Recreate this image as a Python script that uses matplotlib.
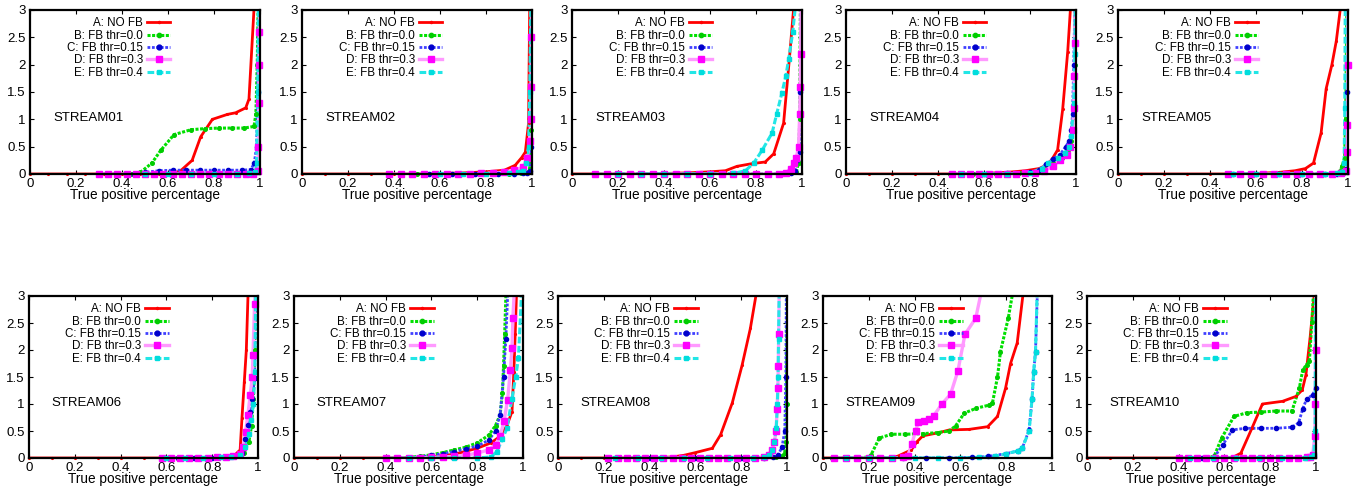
import matplotlib
matplotlib.use("Agg")
import matplotlib.pyplot as plt
import numpy as np

plt.rcParams['font.family'] = ['Liberation Sans', 'DejaVu Sans']

stream_names = ["STREAM01", "STREAM02", "STREAM03", "STREAM04", "STREAM05",
                "STREAM06", "STREAM07", "STREAM08", "STREAM09", "STREAM10"]
series_labels = ["A: NO FB", "B: FB thr=0.0", "C: FB thr=0.15", "D: FB thr=0.3", "E: FB thr=0.4"]
x_ticks = [0, 0.2, 0.4, 0.6, 0.8, 1.0]
x_ticklabels = ["0", "0.2", "0.4", "0.6", "0.8", "1"]
y_ticks = [0, 0.5, 1, 1.5, 2, 2.5, 3]
y_ticklabels = ["0", "0.5", "1", "1.5", "2", "2.5", "3"]

# ---------------- STREAM01 ----------------
s01_Ax = [0, 0.08, 0.16, 0.24, 0.32, 0.40, 0.48, 0.56, 0.62, 0.655, 0.705, 0.742, 0.793, 0.858, 0.894, 0.938, 0.952, 0.975]
s01_Ay = [0, 0, 0, 0, 0, 0, 0, 0, 0.01, 0.06, 0.25, 0.68, 1.0, 1.09, 1.12, 1.21, 1.37, 3.1]
s01_Bx = [0.30, 0.38, 0.44, 0.48, 0.53, 0.568, 0.626, 0.70, 0.76, 0.82, 0.88, 0.93, 0.974, 0.982, 0.988, 0.992]
s01_By = [0, 0, 0, 0.03, 0.2, 0.43, 0.72, 0.81, 0.83, 0.84, 0.84, 0.84, 0.87, 1.1, 2.0, 3.1]
s01_Cx = [0.45, 0.50, 0.56, 0.62, 0.68, 0.74, 0.80, 0.86, 0.92, 0.96, 0.975, 0.985, 0.99, 0.995]
s01_Cy = [0, 0.03, 0.06, 0.07, 0.07, 0.07, 0.07, 0.07, 0.07, 0.08, 0.2, 0.5, 1.5, 3.1]
s01_Dx = [0.30, 0.34, 0.38, 0.42, 0.46, 0.50, 0.54, 0.58, 0.62, 0.66, 0.70, 0.74, 0.78, 0.82, 0.86, 0.90, 0.94, 0.97, 0.99, 0.993, 0.995, 0.996, 0.997, 0.998]
s01_Dy = [0, 0, 0, 0, 0, 0, 0, 0, 0, 0, 0, 0, 0, 0, 0, 0, 0, 0, 0.05, 0.5, 1.3, 2.0, 2.6, 3.1]
s01_Ex = [0.50, 0.60, 0.70, 0.80, 0.90, 0.95, 0.98, 0.985, 0.99, 0.993]
s01_Ey = [0, 0, 0, 0, 0, 0.01, 0.03, 0.2, 1.5, 3.1]

# ---------------- STREAM02 ----------------
s02_Ax = [0, 0.1, 0.2, 0.3, 0.4, 0.5, 0.6, 0.7, 0.8, 0.88, 0.927, 0.955, 0.971, 0.985, 0.99]
s02_Ay = [0, 0, 0, 0, 0, 0, 0.01, 0.02, 0.04, 0.07, 0.16, 0.3, 0.4, 0.93, 3.1]
s02_Bx = [0.5, 0.6, 0.7, 0.8, 0.9, 0.95, 0.98, 0.99, 0.995, 0.997]
s02_By = [0, 0, 0, 0, 0, 0.01, 0.02, 0.1, 0.8, 3.1]
s02_Cx = [0.55, 0.65, 0.75, 0.85, 0.92, 0.96, 0.98, 0.99, 0.995, 0.997]
s02_Cy = [0, 0, 0, 0, 0, 0.01, 0.02, 0.05, 0.5, 3.1]
s02_Dx = [0.38, 0.43, 0.48, 0.53, 0.58, 0.63, 0.68, 0.73, 0.78, 0.83, 0.88, 0.92, 0.96, 0.98, 0.99, 0.994, 0.996, 0.997, 0.998]
s02_Dy = [0, 0, 0, 0, 0, 0, 0, 0, 0.01, 0.02, 0.03, 0.07, 0.12, 0.3, 0.6, 1.0, 1.6, 2.5, 3.1]
s02_Ex = [0.6, 0.7, 0.8, 0.9, 0.94, 0.96, 0.975, 0.985, 0.99, 0.995]
s02_Ey = [0, 0, 0, 0.01, 0.03, 0.05, 0.2, 0.5, 1.5, 3.1]

# ---------------- STREAM03 ----------------
s03_Ax = [0, 0.1, 0.2, 0.3, 0.4, 0.5, 0.6, 0.667, 0.717, 0.783, 0.84, 0.877, 0.92, 0.945, 0.965]
s03_Ay = [0, 0, 0, 0, 0.01, 0.02, 0.04, 0.06, 0.14, 0.19, 0.22, 0.37, 0.93, 2.1, 3.1]
s03_Bx = [0.1, 0.2, 0.3, 0.4, 0.5, 0.6, 0.7, 0.8, 0.9, 0.95, 0.975, 0.985, 0.99, 0.993]
s03_By = [0, 0, 0, 0, 0, 0, 0, 0, 0, 0.01, 0.03, 0.2, 1.0, 3.1]
s03_Cx = [0.2, 0.3, 0.4, 0.5, 0.6, 0.7, 0.8, 0.9, 0.95, 0.97, 0.98, 0.99, 0.993, 0.995]
s03_Cy = [0, 0, 0, 0, 0, 0, 0, 0, 0.01, 0.05, 0.25, 0.4, 1.5, 3.1]
s03_Dx = [0.1, 0.15, 0.2, 0.25, 0.3, 0.35, 0.4, 0.45, 0.5, 0.55, 0.6, 0.65, 0.7, 0.75, 0.8, 0.85, 0.9, 0.93, 0.95, 0.965, 0.975, 0.985, 0.99, 0.992, 0.994, 0.996]
s03_Dy = [0, 0, 0, 0, 0, 0, 0, 0, 0, 0, 0, 0, 0, 0, 0, 0, 0, 0.02, 0.1, 0.2, 0.3, 0.5, 1.1, 1.6, 2.2, 3.1]
s03_Ex = [0.2, 0.3, 0.4, 0.5, 0.6, 0.7, 0.754, 0.79, 0.826, 0.87, 0.89, 0.913, 0.93, 0.942, 0.96, 0.972]
s03_Ey = [0, 0, 0, 0, 0, 0.01, 0.06, 0.2, 0.43, 0.75, 1.1, 1.49, 1.8, 2.1, 2.6, 3.1]

# ---------------- STREAM04 ----------------
s04_Ax = [0, 0.1, 0.2, 0.3, 0.4, 0.5, 0.6, 0.7, 0.78, 0.84, 0.88, 0.9, 0.92, 0.942, 0.964, 0.977]
s04_Ay = [0, 0, 0, 0, 0, 0, 0.01, 0.03, 0.06, 0.1, 0.18, 0.3, 0.44, 1.18, 2.24, 3.1]
s04_Bx = [0.45, 0.55, 0.65, 0.75, 0.82, 0.86, 0.9, 0.94, 0.965, 0.98, 0.99, 0.995, 0.997]
s04_By = [0, 0, 0, 0.01, 0.03, 0.1, 0.2, 0.3, 0.4, 0.6, 1.2, 2.0, 3.1]
s04_Cx = [0.5, 0.6, 0.7, 0.8, 0.84, 0.87, 0.9, 0.93, 0.955, 0.97, 0.98, 0.985, 0.99, 0.995]
s04_Cy = [0, 0, 0.01, 0.03, 0.08, 0.18, 0.28, 0.35, 0.5, 0.6, 0.8, 1.1, 2.0, 3.1]
s04_Dx = [0.46, 0.5, 0.54, 0.58, 0.62, 0.66, 0.7, 0.74, 0.78, 0.82, 0.86, 0.9, 0.93, 0.96, 0.975, 0.985, 0.99, 0.993, 0.995, 0.997]
s04_Dy = [0, 0, 0, 0, 0, 0, 0, 0, 0.01, 0.02, 0.05, 0.15, 0.25, 0.35, 0.5, 0.8, 1.2, 1.8, 2.4, 3.1]
s04_Ex = [0.5, 0.6, 0.7, 0.8, 0.85, 0.88, 0.92, 0.95, 0.97, 0.98, 0.99, 0.995, 0.997]
s04_Ey = [0, 0, 0, 0.02, 0.1, 0.2, 0.3, 0.38, 0.5, 0.7, 1.3, 2.2, 3.1]

# ---------------- STREAM05 ----------------
s05_Ax = [0, 0.1, 0.2, 0.3, 0.4, 0.5, 0.6, 0.7, 0.77, 0.815, 0.85, 0.883, 0.905, 0.93, 0.949, 0.969]
s05_Ay = [0, 0, 0, 0, 0, 0, 0.01, 0.03, 0.06, 0.1, 0.2, 0.75, 1.56, 2.0, 2.43, 3.1]
s05_Bx = [0.5, 0.6, 0.7, 0.8, 0.9, 0.95, 0.965, 0.975, 0.985, 0.99, 0.995]
s05_By = [0, 0, 0, 0, 0, 0.01, 0.05, 0.15, 0.3, 1.0, 3.1]
s05_Cx = [0.5, 0.6, 0.7, 0.8, 0.9, 0.95, 0.98, 0.993, 0.997, 0.999]
s05_Cy = [0, 0, 0, 0, 0, 0, 0.01, 0.1, 1.5, 3.1]
s05_Dx = [0.48, 0.53, 0.58, 0.63, 0.68, 0.73, 0.78, 0.83, 0.88, 0.93, 0.97, 0.99, 0.995, 0.997, 0.998, 0.999]
s05_Dy = [0, 0, 0, 0, 0, 0, 0, 0, 0, 0, 0.01, 0.05, 0.4, 0.9, 2.0, 3.1]
s05_Ex = [0.5, 0.6, 0.7, 0.8, 0.9, 0.95, 0.975, 0.983, 0.986, 0.988]
s05_Ey = [0, 0, 0, 0, 0, 0.01, 0.03, 0.2, 1.2, 3.1]

# ---------------- STREAM06 ----------------
s06_Ax = [0, 0.1, 0.2, 0.3, 0.4, 0.5, 0.6, 0.7, 0.8, 0.87, 0.9, 0.922, 0.93, 0.94, 0.949, 0.957]
s06_Ay = [0, 0, 0, 0, 0, 0, 0, 0, 0.01, 0.03, 0.06, 0.15, 0.74, 1.4, 2.0, 3.1]
s06_Bx = [0.58, 0.65, 0.72, 0.8, 0.86, 0.9, 0.94, 0.96, 0.972, 0.98, 0.986, 0.99]
s06_By = [0, 0, 0, 0, 0.02, 0.04, 0.1, 0.3, 0.6, 1.1, 2.0, 3.1]
s06_Cx = [0.58, 0.65, 0.72, 0.8, 0.86, 0.9, 0.93, 0.945, 0.956, 0.965, 0.975, 0.985, 0.99]
s06_Cy = [0, 0, 0, 0, 0.02, 0.04, 0.1, 0.35, 0.62, 0.85, 1.1, 1.48, 3.1]
s06_Dx = [0.58, 0.62, 0.66, 0.70, 0.74, 0.78, 0.82, 0.86, 0.89, 0.92, 0.935, 0.946, 0.956, 0.966, 0.975, 0.978, 0.985, 0.988]
s06_Dy = [0, 0, 0, 0, 0, 0, 0.01, 0.02, 0.04, 0.08, 0.2, 0.49, 0.8, 1.17, 1.5, 1.9, 2.85, 3.1]
s06_Ex = [0.6, 0.68, 0.76, 0.84, 0.88, 0.92, 0.945, 0.96, 0.97, 0.98, 0.986, 0.99]
s06_Ey = [0, 0, 0, 0.01, 0.02, 0.05, 0.2, 0.45, 0.7, 1.0, 1.6, 3.1]

# ---------------- STREAM07 ----------------
s07_Ax = [0, 0.1, 0.2, 0.3, 0.4, 0.5, 0.6, 0.7, 0.8, 0.86, 0.9, 0.93, 0.952, 0.96, 0.966, 0.972]
s07_Ay = [0, 0, 0, 0, 0, 0.01, 0.02, 0.07, 0.18, 0.28, 0.4, 0.6, 0.86, 1.6, 2.3, 3.1]
s07_Bx = [0.4, 0.5, 0.55, 0.6, 0.65, 0.7, 0.75, 0.8, 0.85, 0.88, 0.9, 0.91, 0.915, 0.92, 0.926]
s07_By = [0, 0.01, 0.03, 0.06, 0.1, 0.15, 0.2, 0.28, 0.42, 0.6, 0.8, 1.2, 1.7, 2.3, 3.1]
s07_Cx = [0.45, 0.55, 0.6, 0.65, 0.7, 0.75, 0.8, 0.85, 0.88, 0.9, 0.915, 0.925, 0.934]
s07_Cy = [0, 0.02, 0.05, 0.08, 0.12, 0.17, 0.22, 0.33, 0.5, 0.8, 1.5, 2.2, 3.1]
s07_Dx = [0.4, 0.45, 0.5, 0.55, 0.6, 0.65, 0.7, 0.75, 0.8, 0.85, 0.88, 0.9, 0.917, 0.933, 0.945, 0.952, 0.956, 0.962]
s07_Dy = [0, 0, 0, 0, 0.01, 0.02, 0.03, 0.05, 0.09, 0.15, 0.25, 0.4, 0.68, 1.08, 1.63, 2.04, 2.6, 3.1]
s07_Ex = [0.5, 0.6, 0.7, 0.8, 0.86, 0.886, 0.91, 0.93, 0.952, 0.968, 0.98, 0.994]
s07_Ey = [0, 0, 0, 0, 0.02, 0.12, 0.35, 0.55, 1.1, 1.5, 1.85, 3.1]

# ---------------- STREAM08 ----------------
s08_Ax = [0, 0.1, 0.2, 0.3, 0.4, 0.5, 0.55, 0.6, 0.674, 0.71, 0.761, 0.804, 0.84, 0.868]
s08_Ay = [0, 0, 0, 0, 0, 0.02, 0.05, 0.1, 0.18, 0.43, 1.02, 1.72, 2.4, 3.1]
s08_Bx = [0.3, 0.4, 0.5, 0.6, 0.7, 0.8, 0.9, 0.95, 0.98, 0.99, 0.995, 0.998, 0.999]
s08_By = [0, 0, 0, 0, 0, 0, 0, 0.01, 0.03, 0.1, 0.3, 1.0, 3.1]
s08_Cx = [0.3, 0.4, 0.5, 0.6, 0.7, 0.8, 0.9, 0.94, 0.96, 0.978, 0.99, 0.995, 0.997]
s08_Cy = [0, 0, 0, 0, 0, 0, 0, 0.02, 0.05, 0.2, 0.5, 1.5, 3.1]
s08_Dx = [0.22, 0.26, 0.30, 0.34, 0.38, 0.42, 0.46, 0.50, 0.54, 0.58, 0.62, 0.66, 0.70, 0.74, 0.78, 0.82, 0.86, 0.9, 0.92, 0.935, 0.945, 0.952, 0.957, 0.96, 0.962, 0.964, 0.966]
s08_Dy = [0, 0, 0, 0, 0, 0, 0, 0, 0, 0, 0, 0, 0, 0, 0, 0, 0, 0.02, 0.06, 0.15, 0.3, 0.5, 0.9, 1.3, 1.7, 2.3, 3.1]
s08_Ex = [0.25, 0.35, 0.45, 0.55, 0.65, 0.75, 0.85, 0.9, 0.92, 0.935, 0.945, 0.953, 0.958, 0.961, 0.963, 0.966]
s08_Ey = [0, 0, 0, 0, 0, 0, 0, 0.02, 0.06, 0.15, 0.3, 0.55, 1.0, 1.5, 2.2, 3.1]

# ---------------- STREAM09 ----------------
s09_Ax = [0, 0.1, 0.2, 0.3, 0.33, 0.36, 0.386, 0.41, 0.436, 0.507, 0.552, 0.638, 0.719, 0.762, 0.797, 0.819, 0.848, 0.874]
s09_Ay = [0, 0, 0, 0, 0.04, 0.1, 0.15, 0.3, 0.41, 0.47, 0.52, 0.53, 0.58, 0.77, 1.29, 1.75, 2.13, 3.05]
s09_Bx = [0.04, 0.1, 0.15, 0.2, 0.21, 0.246, 0.299, 0.36, 0.435, 0.5, 0.552, 0.58, 0.617, 0.668, 0.726, 0.74, 0.762, 0.775, 0.809, 0.828]
s09_By = [0, 0, 0, 0.02, 0.06, 0.37, 0.44, 0.44, 0.45, 0.47, 0.5, 0.6, 0.83, 0.92, 0.98, 1.02, 1.5, 1.97, 2.59, 3.05]
s09_Cx = [0.05, 0.15, 0.25, 0.35, 0.45, 0.55, 0.65, 0.72, 0.8, 0.85, 0.87, 0.9, 0.913, 0.92, 0.928, 0.936]
s09_Cy = [0, 0, 0, 0, 0, 0, 0.01, 0.03, 0.08, 0.13, 0.18, 0.52, 1.1, 1.6, 1.97, 3.05]
s09_Dx = [0.05, 0.1, 0.15, 0.2, 0.25, 0.3, 0.35, 0.37, 0.388, 0.404, 0.416, 0.443, 0.465, 0.483, 0.519, 0.557, 0.589, 0.62, 0.667, 0.69]
s09_Dy = [0, 0, 0, 0, 0, 0, 0.01, 0.04, 0.26, 0.5, 0.66, 0.69, 0.73, 0.78, 1.0, 1.18, 1.61, 2.29, 2.59, 3.05]
s09_Ex = [0.1, 0.2, 0.3, 0.4, 0.5, 0.6, 0.68, 0.75, 0.8, 0.85, 0.87, 0.9, 0.913, 0.92, 0.928, 0.935]
s09_Ey = [0, 0, 0, 0, 0, 0, 0.01, 0.03, 0.08, 0.13, 0.18, 0.5, 1.1, 1.6, 1.97, 3.05]

# ---------------- STREAM10 ----------------
s10_Ax = [0, 0.1, 0.2, 0.3, 0.4, 0.5, 0.6, 0.64, 0.672, 0.72, 0.766, 0.854, 0.912, 0.94, 0.956, 0.974, 0.993]
s10_Ay = [0, 0, 0, 0, 0, 0, 0, 0.02, 0.09, 0.55, 1.0, 1.05, 1.14, 1.26, 1.54, 2.22, 3.05]
s10_Bx = [0.4, 0.5, 0.555, 0.588, 0.642, 0.7, 0.76, 0.825, 0.895, 0.927, 0.942, 0.959, 0.971, 0.982, 0.989]
s10_By = [0, 0, 0.03, 0.37, 0.77, 0.84, 0.85, 0.87, 0.87, 1.29, 1.63, 1.73, 1.79, 2.52, 3.05]
s10_Cx = [0.4, 0.5, 0.555, 0.594, 0.635, 0.69, 0.76, 0.825, 0.895, 0.924, 0.942, 0.959, 0.985, 0.998, 0.999]
s10_Cy = [0, 0, 0.01, 0.25, 0.52, 0.55, 0.55, 0.55, 0.57, 0.65, 0.91, 1.09, 1.17, 1.29, 3.1]
s10_Dx = [0.4, 0.44, 0.48, 0.52, 0.56, 0.6, 0.64, 0.68, 0.72, 0.76, 0.8, 0.84, 0.88, 0.92, 0.96, 0.975, 0.985, 0.995, 0.997, 0.998, 0.999]
s10_Dy = [0, 0, 0, 0, 0, 0, 0, 0, 0, 0, 0, 0, 0, 0, 0.01, 0.02, 0.05, 0.4, 1.0, 2.0, 3.1]
s10_Ex = [0.45, 0.55, 0.65, 0.75, 0.85, 0.95, 0.98, 0.99, 0.996, 0.998]
s10_Ey = [0, 0, 0, 0, 0, 0, 0.01, 0.05, 0.5, 3.1]

# ---------------- styles ----------------
styles = {
    "A": dict(color="#ff0000", lw=2.0, ls="-", marker=".", ms=2.5, mfc="#ff0000", mec="#ff0000"),
    "B": dict(color="#00e000", lw=2.2, ls=(0, (1, 0.5)), marker="o", ms=2.6, mfc="#00cc00", mec="#00cc00"),
    "C": dict(color="#4040ff", lw=2.0, ls=(0, (1, 0.6)), marker="o", ms=3.0, mfc="#0000cc", mec="#0000cc"),
    "D": dict(color="#ff99ff", lw=2.4, ls="-", marker="s", ms=4.5, mfc="#ff00ff", mec="#ff00ff"),
    "E": dict(color="#22e6e6", lw=2.2, ls=(0, (2.2, 0.8)), marker="s", ms=2.4, mfc="#00dddd", mec="#00dddd"),
}

W, H = 1367, 488
fig = plt.figure(figsize=(W / 100, H / 100), dpi=100)

row1_left = [30, 302, 572, 846, 1118]
row2_left = [29, 294, 558, 823, 1087]

def px_axes(left, top, width, height):
    return fig.add_axes([left / W, 1 - (top + height) / H, width / W, height / H])

keys = ["A", "B", "C", "D", "E"]
for i, name in enumerate(stream_names):
    if i < 5:
        ax = px_axes(row1_left[i], 10, 230, 164)
        ah = 164
    else:
        ax = px_axes(row2_left[i - 5], 296, 229, 162)
        ah = 162
    tag = "s%02d_" % (i + 1)
    handles = []
    for k, lab in zip(keys, series_labels):
        xs = np.array(globals()[tag + k + "x"])
        ys = np.array(globals()[tag + k + "y"])
        st = styles[k]
        ax.plot(xs, ys, color=st["color"], lw=st["lw"], ls=st["ls"], zorder=2, solid_capstyle="butt")
        m = ys <= 3.0
        ax.plot(xs[m], ys[m], ls="none", marker=st["marker"], ms=st["ms"],
                mfc=st["mfc"], mec=st["mec"], clip_on=False, zorder=3)
        h, = ax.plot([], [], color=st["color"], lw=st["lw"], ls=st["ls"], marker=st["marker"],
                     ms=st["ms"] + 0.5, mfc=st["mfc"], mec=st["mec"], markevery=[1])
        handles.append(h)
    ax.set_xlim(0, 1)
    ax.set_ylim(0, 3)
    ax.set_xticks(x_ticks)
    ax.set_xticklabels(x_ticklabels)
    ax.set_yticks(y_ticks)
    ax.set_yticklabels(y_ticklabels)
    ax.tick_params(direction="in", length=3, width=0.8, top=True, right=True,
                   labelsize=9.5, pad=3)
    for sp in ax.spines.values():
        sp.set_linewidth(1.6)
        sp.set_zorder(5)
    ax.set_xlabel("True positive percentage", fontsize=9.8, labelpad=-1.5)
    ax.text(0.10, 0.34, name, transform=ax.transAxes, fontsize=9.5, va="center", ha="left")
    ax.legend(handles, series_labels, loc="upper right",
              bbox_to_anchor=(0.62, 1.0 - 5.0 / ah),
              frameon=False, fontsize=8.4, markerfirst=False, handlelength=2.0,
              handletextpad=0.35, labelspacing=0.03, borderaxespad=0.0, borderpad=0.2)

fig.savefig("out.png", dpi=100)
